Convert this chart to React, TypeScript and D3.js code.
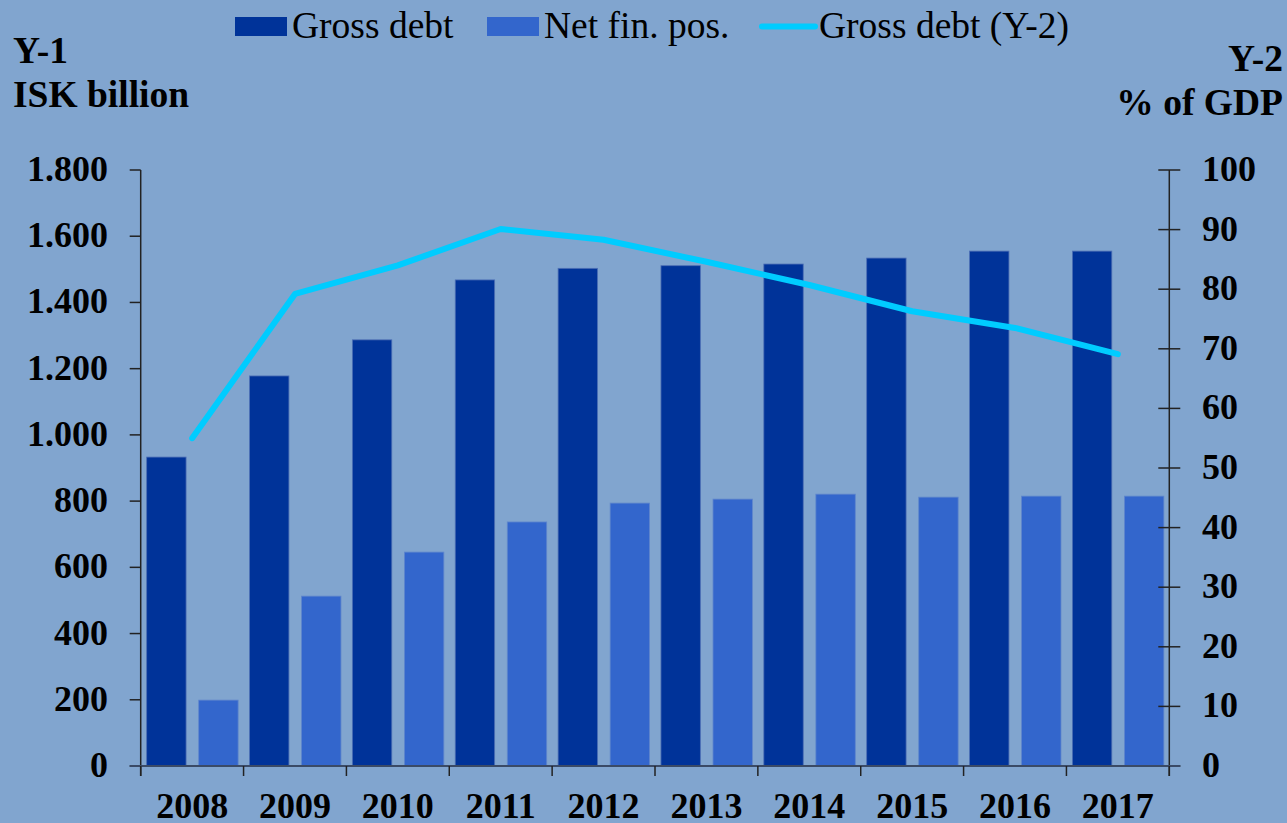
import React from "react";
import * as d3 from "d3";

const years = ["2008", "2009", "2010", "2011", "2012", "2013", "2014", "2015", "2016", "2017"];
const grossDebt = [933, 1178, 1287, 1468, 1503, 1511, 1516, 1534, 1555, 1555];
const netFinPos = [199, 513, 646, 737, 794, 806, 821, 812, 815, 815];
const grossDebtPct = [55, 79.2, 84, 90.1, 88.3, 84.6, 80.7, 76.3, 73.5, 69.1];
const leftTicks = [0, 200, 400, 600, 800, 1000, 1200, 1400, 1600, 1800];
const rightTicks = [0, 10, 20, 30, 40, 50, 60, 70, 80, 90, 100];

const W = 1287;
const H = 823;
const X0 = 140.7;
const X1 = 1169.3;
const Y0 = 766;
const Y1 = 170;

const BG = "#81A5CF";
const C_GROSS = "#003399";
const C_NET = "#3366CC";
const C_LINE = "#00CCFF";
const FONT = "'Liberation Serif', 'Times New Roman', serif";

export default function App() {
  const x = d3.scaleBand<string>().domain(years).range([X0, X1]).padding(0);
  const bw = x.bandwidth();
  const yL = d3.scaleLinear().domain([0, 1800]).range([Y0, Y1]);
  const yR = d3.scaleLinear().domain([0, 100]).range([Y0, Y1]);
  const line = d3
    .line<number>()
    .x((_, i) => (x(years[i]) as number) + bw / 2)
    .y((d) => yR(d));

  const barW = bw * 0.383;
  const fmt = (v: number) => (v >= 1000 ? `${Math.floor(v / 1000)}.${String(v % 1000).padStart(3, "0")}` : String(v));

  return (
    <svg
      width={W}
      height={H}
      style={{ position: "absolute", left: 0, top: 0, display: "block", background: BG }}
      fontFamily={FONT}
    >
      <rect x={0} y={0} width={W} height={H} fill={BG} />

      {/* bars */}
      {years.map((yr, i) => {
        const bx = x(yr) as number;
        return (
          <g key={yr}>
            <rect
              x={bx + bw * 0.058}
              y={yL(grossDebt[i])}
              width={barW}
              height={Y0 - yL(grossDebt[i])}
              fill={C_GROSS}
              stroke="#4d6fb5"
              strokeWidth={0.8}
            />
            <rect
              x={bx + bw * 0.564}
              y={yL(netFinPos[i])}
              width={barW}
              height={Y0 - yL(netFinPos[i])}
              fill={C_NET}
              stroke="#5f86cc"
              strokeWidth={0.8}
            />
          </g>
        );
      })}

      {/* line */}
      <path
        d={line(grossDebtPct) || ""}
        fill="none"
        stroke={C_LINE}
        strokeWidth={6}
        strokeLinecap="round"
        strokeLinejoin="round"
      />

      {/* left axis */}
      <line x1={X0} x2={X0} y1={Y1} y2={Y0 + 10} stroke="#222" strokeWidth={1.5} />
      {leftTicks.map((t) => (
        <g key={"l" + t}>
          <line x1={X0 - 11} x2={X0} y1={yL(t)} y2={yL(t)} stroke="#222" strokeWidth={1.5} />
          <text x={108} y={yL(t) + 11} textAnchor="end" fontSize={36} fontWeight="bold" fill="#000">
            {fmt(t)}
          </text>
        </g>
      ))}

      {/* right axis */}
      <line x1={X1} x2={X1} y1={Y1} y2={Y0 + 10} stroke="#222" strokeWidth={1.5} />
      {rightTicks.map((t) => (
        <g key={"r" + t}>
          <line x1={X1 - 11} x2={X1 + 11} y1={yR(t)} y2={yR(t)} stroke="#222" strokeWidth={1.5} />
          <text x={1202} y={yR(t) + 11} textAnchor="start" fontSize={36} fontWeight="bold" fill="#000">
            {t}
          </text>
        </g>
      ))}

      {/* bottom axis */}
      <line x1={X0 - 11} x2={X1 + 11} y1={Y0} y2={Y0} stroke="#3a4a66" strokeWidth={2} />
      {years.map((yr) => (
        <line key={"t" + yr} x1={x(yr) as number} x2={x(yr) as number} y1={Y0} y2={Y0 + 10} stroke="#222" strokeWidth={1.5} />
      ))}
      <line x1={X1} x2={X1} y1={Y0} y2={Y0 + 10} stroke="#222" strokeWidth={1.5} />
      {years.map((yr) => (
        <text
          key={"x" + yr}
          x={(x(yr) as number) + bw / 2}
          y={818}
          textAnchor="middle"
          fontSize={36}
          fontWeight="bold"
          fill="#000"
        >
          {yr}
        </text>
      ))}

      {/* axis titles */}
      <text x={13} y={63} fontSize={37.5} fontWeight="bold" fill="#000">Y-1</text>
      <text x={13} y={107} fontSize={37.5} fontWeight="bold" fill="#000">ISK billion</text>
      <text x={1283} y={71} fontSize={37.5} fontWeight="bold" fill="#000" textAnchor="end">Y-2</text>
      <text x={1283} y={115} fontSize={37.5} fontWeight="bold" fill="#000" textAnchor="end">% of GDP</text>

      {/* legend */}
      <rect x={235} y={17} width={52} height={19} fill={C_GROSS} />
      <text x={292} y={38} fontSize={37.5} fill="#000">Gross debt</text>
      <rect x={487} y={17} width={52} height={19} fill={C_NET} />
      <text x={544} y={38} fontSize={37.5} fill="#000">Net fin. pos.</text>
      <line x1={762} x2={815} y1={26.5} y2={26.5} stroke={C_LINE} strokeWidth={6} strokeLinecap="round" />
      <text x={819} y={38} fontSize={37.5} fill="#000">Gross debt (Y-2)</text>
    </svg>
  );
}
